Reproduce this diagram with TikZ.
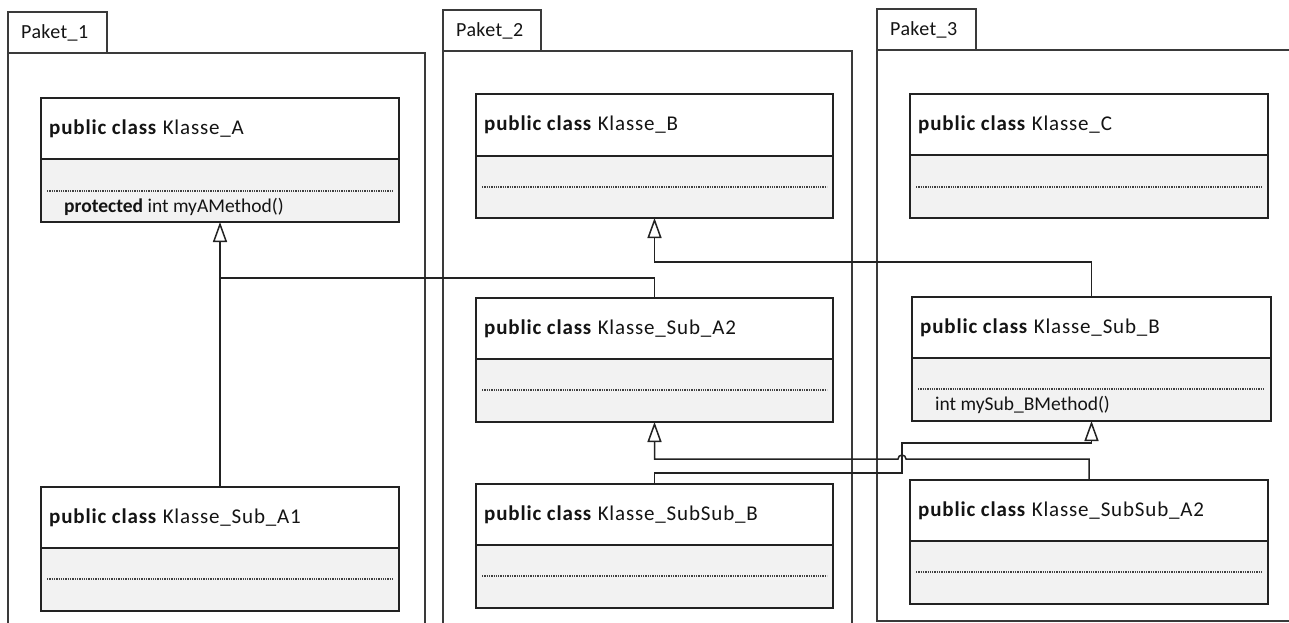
\documentclass[tikz,border=0pt]{standalone}
\usepackage{fontspec}
\setmainfont{Carlito}
\newfontfamily\titlefont{Carlito}[LetterSpace=4]
\newfontfamily\methfont{Carlito}
\newfontfamily\pakfont{Carlito}[LetterSpace=2]
\usetikzlibrary{arrows.meta}
\definecolor{pkgline}{HTML}{3A3A3A}
\definecolor{clsline}{HTML}{222222}
\definecolor{compfill}{HTML}{F2F2F2}
\definecolor{dotgray}{HTML}{404040}
\definecolor{txt}{HTML}{141414}
\tikzset{
  pkgbox/.style={draw=pkgline, line width=1.4pt, fill=white, inner sep=0pt, outer sep=0pt, rectangle},
  pkgtext/.style={font=\pakfont\fontsize{20}{24}\selectfont, text=txt, inner sep=0pt},
  classbox/.style={draw=clsline, line width=1.5pt, inner sep=0pt, outer sep=0pt, rectangle},
  divline/.style={draw=clsline, line width=1.5pt},
  dotline/.style={draw=dotgray, line width=1.3pt, dash pattern=on 1.3pt off 1pt},
  titletext/.style={font=\titlefont\fontsize{21}{25}\selectfont, text=txt, inner sep=0pt},
  methtext/.style={font=\methfont\fontsize{19.5}{23}\selectfont, text=txt, inner sep=0pt},
  conn/.style={draw=clsline, line width=1.5pt},
  gen/.style={conn, -{Triangle[open, length=20pt, width=14pt, line width=1.5pt]}}
}
% name, x1, y1, x2, y2, divider y, dotted y, title, method
\newcommand\umlclass[9]{%
  \fill[white] (#2,#3) rectangle (#4,#5);
  \fill[compfill] (#2,#6) rectangle (#4,#5);
  \draw[divline] (#2,#6) -- (#4,#6);
  \draw[dotline] ({#2+6},#7) -- ({#4-6},#7);
  \node[titletext, anchor=west] (#1-title) at ({#2+8},{(#3+#6)/2}) {#8};
  \if\relax\detokenize{#9}\relax\else
    \node[methtext, anchor=west] (#1-meth) at ({#2+23},{(#7+#5)/2}) {#9};
  \fi
  \node[classbox, minimum width={#4-#2}, minimum height={#5-#3}, anchor=north west] (#1) at (#2,#3) {};
}
% name, tab x1, tab y1, tab x2, body y1, body x2, body y2, label
\newcommand\paket[8]{%
  \node[pkgbox, minimum width={#4-#2}, minimum height={#5-#3}, anchor=north west] (#1tab) at (#2,#3) {};
  \node[pkgtext, anchor=west] (#1label) at ({#2+13},{(#3+#5)/2}) {#8};
  \node[pkgbox, minimum width={#6-#2}, minimum height={#7-#5}, anchor=north west] (#1) at (#2,#5) {};
}
\begin{document}
\begin{tikzpicture}[x=1pt, y=-1pt]
\useasboundingbox (0,0) rectangle (1289,623);
\clip (0,0) rectangle (1289,623);
\fill[white] (0,0) rectangle (1289,623);

\paket{P1}{8}{12}{107}{53}{425}{660}{Paket\_1}
\paket{P2}{443}{10}{541}{51}{852}{660}{Paket\_2}
\paket{P3}{877}{9}{976}{50}{1320}{621}{Paket\_3}

\umlclass{A}{41}{98}{399}{222}{159}{191}{\textbf{public class} Klasse\_A}{\textbf{protected} int myAMethod()}
\umlclass{SubA1}{41}{487}{399}{611}{548}{579}{\textbf{public class} Klasse\_Sub\_A1}{}
\umlclass{B}{476}{94}{833}{218}{156}{187}{\textbf{public class} Klasse\_B}{}
\umlclass{SubA2}{476}{298}{833}{422}{359}{390}{\textbf{public class} Klasse\_Sub\_A2}{}
\umlclass{SubSubB}{476}{484}{833}{608}{545}{576}{\textbf{public class} Klasse\_SubSub\_B}{}
\umlclass{C}{910}{94}{1268}{218}{155}{187}{\textbf{public class} Klasse\_C}{}
\umlclass{SubB}{912}{297}{1271}{421}{358}{389}{\textbf{public class} Klasse\_Sub\_B}{int mySub\_BMethod()}
\umlclass{SubSubA2}{910}{480}{1268}{604}{541}{572}{\textbf{public class} Klasse\_SubSub\_A2}{}

% connectors
\coordinate (jA) at (A.south |- 0,278);
\coordinate (jB) at (SubB.north |- 0,262);
\coordinate (k1) at (902,473);
\coordinate (k2) at (902,443);
\coordinate (h1) at (906,459);

\draw[gen] (SubA1.north) -- (A.south);
\draw[conn] (SubA2.north) |- (jA);
\draw[gen] (SubB.north) -- (jB) -| (B.south);
\draw[gen] (SubSubB.north) |- (k1) -- (k2) -| (SubB.south);
\draw[gen] (SubSubA2.north) |- (h1) arc[start angle=0, end angle=180, radius=4pt] -| (SubA2.south);
\end{tikzpicture}
\end{document}
